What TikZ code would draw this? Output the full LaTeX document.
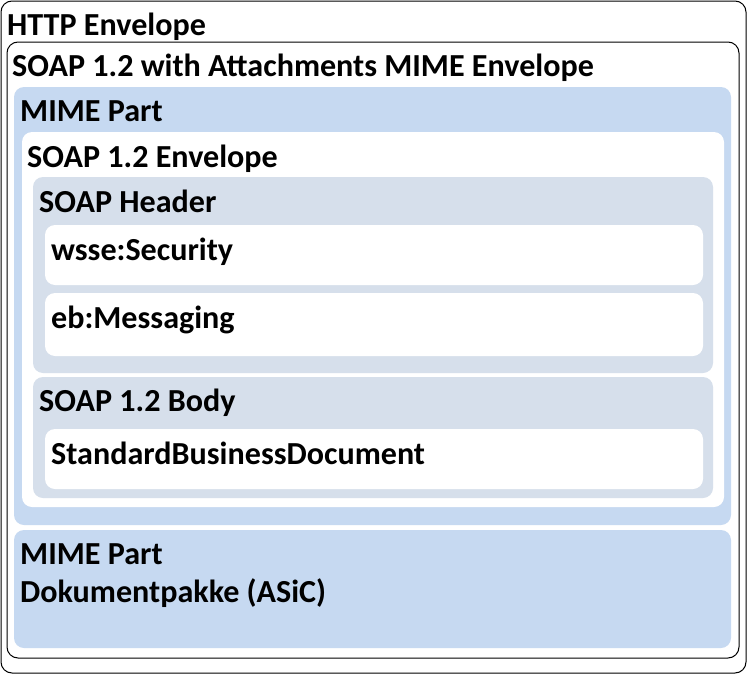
\documentclass[tikz,border=0pt]{standalone}
\usepackage{fontspec}
\setmainfont{Carlito}
\definecolor{mimeblue}{RGB}{198,217,241}
\definecolor{hdrgrey}{RGB}{214,223,235}
\tikzset{
  frame/.style={draw=black, line width=1pt, fill=white, rounded corners=11pt},
  bluebox/.style={fill=mimeblue, rounded corners=10pt},
  whitebox/.style={fill=white, rounded corners=10pt},
  greybox/.style={fill=hdrgrey, rounded corners=10pt},
  lbl/.style={anchor=base west, inner sep=0pt, font=\fontsize{32.1}{38}\selectfont\bfseries},
}
\begin{document}
\begin{tikzpicture}[x=1pt,y=-1pt]
\useasboundingbox (0,0) rectangle (748,675);
\fill[white] (0,0) rectangle (748,675);
% HTTP envelope
\path[frame] (1,1) rectangle (746,673);
\node[lbl] (http) at (7,35) {HTTP Envelope};
% SOAP with attachments
\path[frame] (7,42) rectangle (739,658);
\node[lbl] (swa) at (12,76) {SOAP 1.2 with Attachments MIME Envelope};
% MIME part 1
\path[bluebox] (14,87) rectangle (731,525);
\node[lbl] (mime1) at (20,121) {MIME Part};
% SOAP envelope
\path[whitebox] (22,132) rectangle (724,507);
\node[lbl] (env) at (27,167) {SOAP 1.2 Envelope};
% SOAP header
\path[greybox] (33,177) rectangle (713,373);
\node[lbl] (hdr) at (39,212) {SOAP Header};
\path[whitebox] (45,225) rectangle (703,285);
\node[lbl] (wsse) at (51,260) {wsse:Security};
\path[whitebox] (45,293) rectangle (703,356);
\node[lbl] (eb) at (51,328) {eb:Messaging};
% SOAP body
\path[greybox] (33,377) rectangle (713,498);
\node[lbl] (body) at (39,411) {SOAP 1.2 Body};
\path[whitebox] (45,429) rectangle (703,489);
\node[lbl] (sbd) at (51,464) {StandardBusinessDocument};
% MIME part 2
\path[bluebox] (14,530) rectangle (731,648);
\node[lbl] (mime2) at (20,564) {MIME Part};
\node[lbl] (asic) at (20,602) {Dokumentpakke (ASiC)};
\end{tikzpicture}
\end{document}
